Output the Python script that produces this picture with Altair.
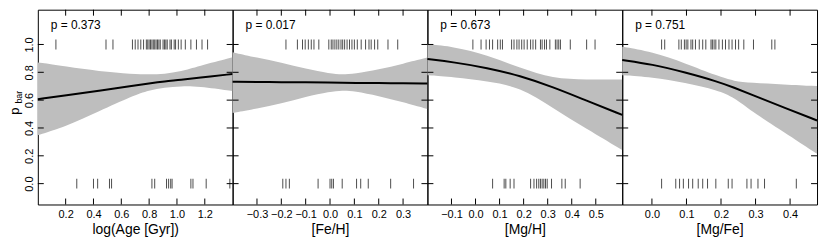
import altair as alt
import pandas as pd

FONT = "Liberation Sans"
W, H = 196, 196
TICK = 6

Y_DOMAIN = [-0.15, 1.25]
Y_TICKS = [0.0, 0.2, 0.4, 0.6, 0.8, 1.0]

panel_titles = ["log(Age [Gyr])", "[Fe/H]", "[Mg/H]", "[Mg/Fe]"]
p_labels = ["p = 0.373", "p = 0.017", "p = 0.673", "p = 0.751"]
x_domains = [[0.0, 1.4], [-0.4, 0.4], [-0.2, 0.61], [-0.086, 0.478]]
x_ticks = [
    [0.2, 0.4, 0.6, 0.8, 1.0, 1.2],
    [-0.3, -0.2, -0.1, 0.0, 0.1, 0.2, 0.3],
    [-0.1, 0.0, 0.1, 0.2, 0.3, 0.4, 0.5],
    [0.0, 0.1, 0.2, 0.3, 0.4],
]

# rug values: galaxies with a bar (p_bar = 1) and without (p_bar = 0)
age_bar = [0.13, 0.49, 0.54, 0.68, 0.70, 0.72, 0.74, 0.76, 0.78, 0.79, 0.80, 0.81,
           0.82, 0.83, 0.84, 0.85, 0.86, 0.87, 0.88, 0.90, 0.91, 0.92, 0.93, 0.95,
           0.96, 0.98, 0.99, 1.01, 1.03, 1.06, 1.10, 1.14, 1.18, 1.22]
age_nobar = [0.28, 0.40, 0.43, 0.515, 0.53, 0.82, 0.84, 0.925, 0.94, 0.955, 0.965,
             1.10, 1.115, 1.21, 1.38]
feh_bar = [-0.181, -0.134, -0.113, -0.102, -0.089, -0.077, -0.066, -0.046, -0.005,
           0.005, 0.012, 0.02, 0.028, 0.036, 0.045, 0.052, 0.06, 0.07, 0.08, 0.09,
           0.1, 0.112, 0.128, 0.146, 0.16, 0.169, 0.183, 0.196, 0.238, 0.278]
feh_nobar = [-0.194, -0.181, -0.167, -0.049, 0.0, 0.007, 0.014, 0.05, 0.109, 0.126,
             0.157, 0.249, 0.343]
mgh_bar = [-0.011, 0.023, 0.044, 0.058, 0.071, 0.092, 0.103, 0.112, 0.150, 0.160,
           0.172, 0.181, 0.192, 0.202, 0.215, 0.229, 0.239, 0.250, 0.270, 0.277,
           0.287, 0.295, 0.309, 0.332, 0.339, 0.346, 0.353, 0.394, 0.462, 0.497]
mgh_nobar = [0.071, 0.119, 0.126, 0.144, 0.160, 0.229, 0.243, 0.254, 0.263, 0.270,
             0.277, 0.284, 0.291, 0.298, 0.316, 0.359, 0.373, 0.435]
mgfe_bar = [0.028, 0.037, 0.078, 0.085, 0.094, 0.099, 0.104, 0.113, 0.118, 0.126,
            0.137, 0.147, 0.156, 0.171, 0.175, 0.180, 0.185, 0.194, 0.204, 0.213,
            0.223, 0.232, 0.242, 0.251, 0.266, 0.294, 0.347, 0.356]
mgfe_nobar = [0.028, 0.069, 0.080, 0.091, 0.106, 0.118, 0.134, 0.147, 0.161, 0.185,
              0.221, 0.232, 0.275, 0.287, 0.307, 0.326, 0.418]

# logistic fits with confidence bands
age_x = [0.0, 0.2, 0.44, 0.68, 0.80, 0.91, 1.03, 1.15, 1.4]
age_fit = [0.607, 0.633, 0.668, 0.702, 0.720, 0.735, 0.745, 0.760, 0.788]
age_lo = [0.348, 0.41, 0.52, 0.63, 0.67, 0.69, 0.70, 0.70, 0.665]
age_hi = [0.871, 0.842, 0.807, 0.788, 0.784, 0.788, 0.807, 0.842, 0.908]

feh_x = [-0.4, -0.3, -0.2, -0.1, 0.0, 0.05, 0.1, 0.2, 0.3, 0.4]
feh_fit = [0.732, 0.731, 0.729, 0.728, 0.726, 0.725, 0.724, 0.723, 0.721, 0.720]
feh_lo = [0.508, 0.54, 0.575, 0.625, 0.66, 0.671, 0.665, 0.63, 0.585, 0.536]
feh_hi = [0.944, 0.905, 0.87, 0.825, 0.79, 0.784, 0.79, 0.82, 0.862, 0.906]

mgh_x = [-0.2, -0.09, 0.048, 0.185, 0.322, 0.46, 0.61]
mgh_fit = [0.896, 0.872, 0.833, 0.775, 0.694, 0.597, 0.494]
mgh_lo = [0.779, 0.765, 0.736, 0.694, 0.544, 0.395, 0.242]
mgh_hi = [1.002, 0.984, 0.925, 0.831, 0.755, 0.748, 0.748]

mgfe_x = [-0.086, 0.0, 0.096, 0.191, 0.238, 0.286, 0.381, 0.478]
mgfe_fit = [0.889, 0.858, 0.80, 0.733, 0.69, 0.642, 0.548, 0.454]
mgfe_lo = [0.779, 0.765, 0.725, 0.671, 0.619, 0.525, 0.372, 0.214]
mgfe_hi = [0.984, 0.948, 0.866, 0.772, 0.736, 0.725, 0.713, 0.701]

rugs = [(age_bar, age_nobar), (feh_bar, feh_nobar), (mgh_bar, mgh_nobar), (mgfe_bar, mgfe_nobar)]
fits = [(age_x, age_fit, age_lo, age_hi), (feh_x, feh_fit, feh_lo, feh_hi),
        (mgh_x, mgh_fit, mgh_lo, mgh_hi), (mgfe_x, mgfe_fit, mgfe_lo, mgfe_hi)]


def panel(i):
    xs = alt.Scale(domain=x_domains[i], nice=False, zero=False)
    ys = alt.Scale(domain=Y_DOMAIN, nice=False, zero=False)
    x_axis = alt.Axis(values=x_ticks[i], format=".1f", title=panel_titles[i],
                      ticks=False, domain=False, grid=False, labelPadding=4,
                      titlePadding=3)
    if i == 0:
        y_axis = alt.Axis(values=Y_TICKS, format=".1f", ticks=False, domain=False,
                          grid=False, labelAngle=270, labelAlign="center",
                          labelBaseline="bottom", labelPadding=3, title=None)
    else:
        y_axis = None

    fx, ffit, flo, fhi = fits[i]
    fit_df = pd.DataFrame({"x": fx, "fit": ffit, "lo": flo, "hi": fhi})
    bar, nobar = rugs[i]
    rug_df = pd.DataFrame({"x": bar + nobar, "y": [1.0] * len(bar) + [0.0] * len(nobar)})
    xt_df = pd.DataFrame({"x": x_ticks[i]})
    yt_df = pd.DataFrame({"y": Y_TICKS})
    lab_df = pd.DataFrame({"label": [p_labels[i]]})

    X = alt.X("x:Q", scale=xs, axis=x_axis)

    band = alt.Chart(fit_df).mark_area(color="#BEBEBE", interpolate="basis").encode(
        x=X, y=alt.Y("lo:Q", scale=ys, axis=y_axis), y2="hi:Q")
    line = alt.Chart(fit_df).mark_line(color="black", strokeWidth=2, interpolate="basis").encode(
        x=X, y=alt.Y("fit:Q", scale=ys, axis=y_axis))
    rug = alt.Chart(rug_df).mark_tick(orient="vertical", size=10, thickness=1, color="black").encode(
        x=X, y=alt.Y("y:Q", scale=ys, axis=y_axis))
    top_t = alt.Chart(xt_df).mark_rule(color="black").encode(
        x=X, y=alt.value(0), y2=alt.value(TICK))
    bot_t = alt.Chart(xt_df).mark_rule(color="black").encode(
        x=X, y=alt.value(H), y2=alt.value(H - TICK))
    left_t = alt.Chart(yt_df).mark_rule(color="black").encode(
        y=alt.Y("y:Q", scale=ys, axis=y_axis), x=alt.value(0), x2=alt.value(TICK))
    right_t = alt.Chart(yt_df).mark_rule(color="black").encode(
        y=alt.Y("y:Q", scale=ys, axis=y_axis), x=alt.value(W), x2=alt.value(W - TICK))
    plabel = alt.Chart(lab_df).mark_text(align="left", baseline="middle", fontSize=12,
                                          font=FONT, color="black").encode(
        x=alt.value(13), y=alt.value(15), text="label:N")
    layers = [band, line, rug, top_t, bot_t, left_t, right_t, plabel]
    if i == 0:
        ttl = pd.DataFrame({"t": ["p"]})
        sub = pd.DataFrame({"t": ["bar"]})
        p_t = alt.Chart(ttl).mark_text(angle=270, fontSize=13, font=FONT, color="black",
                                        align="center", baseline="middle").encode(
            x=alt.value(-23), y=alt.value(102), text="t:N")
        s_t = alt.Chart(sub).mark_text(angle=270, fontSize=9, font=FONT, color="black",
                                        align="center", baseline="middle").encode(
            x=alt.value(-19), y=alt.value(88), text="t:N")
        layers += [p_t, s_t]
    return alt.layer(*layers).properties(width=W, height=H)


chart = alt.hconcat(*[panel(i) for i in range(4)], spacing=0, bounds="flush").properties(
    padding={"left": 0, "top": 0, "right": 0, "bottom": 0},
    background="white",
).configure_view(stroke="black", strokeWidth=1).configure_axis(
    labelFont=FONT, titleFont=FONT, labelFontSize=11, titleFontSize=14,
    labelColor="black", titleColor="black", titleFontWeight="normal",
).configure_concat(spacing=0)

chart.save("out.html", embed_options={"renderer": "svg", "actions": False})
